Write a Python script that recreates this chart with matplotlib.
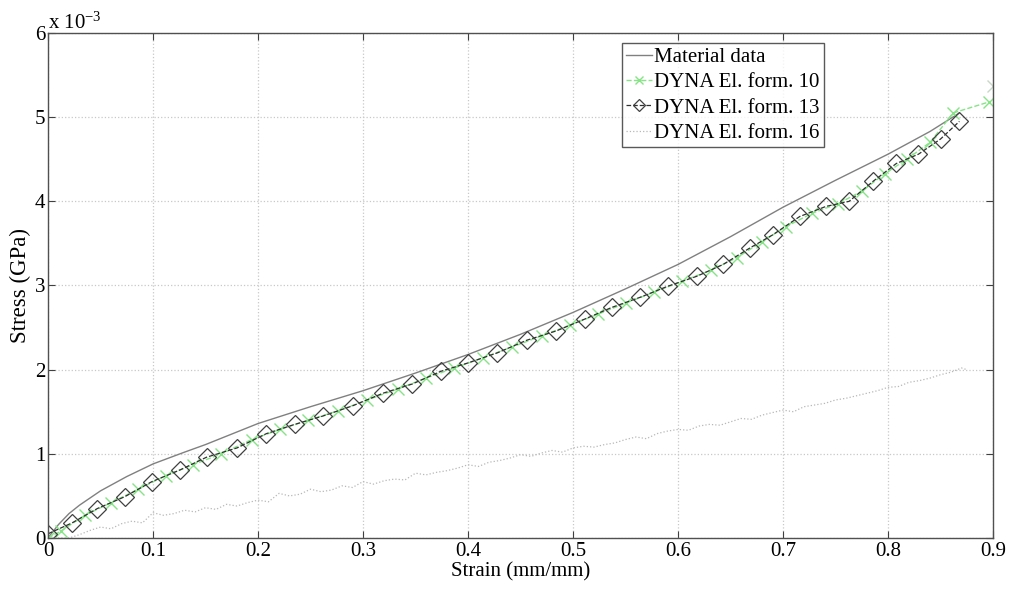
import matplotlib
matplotlib.use("Agg")
import matplotlib.pyplot as plt

plt.rcParams['font.family'] = ['Liberation Serif', 'DejaVu Serif']
plt.rcParams['mathtext.fontset'] = 'custom'
plt.rcParams['mathtext.rm'] = 'Liberation Serif'
plt.rcParams['mathtext.it'] = 'Liberation Serif:italic'

# Stress values are in units of 1e-3 GPa
material_strain = [0.0, 0.01, 0.02, 0.03, 0.05, 0.075, 0.1, 0.13, 0.15, 0.2, 0.25,
                   0.3, 0.35, 0.4, 0.45, 0.5, 0.55, 0.6, 0.65, 0.7, 0.75, 0.8,
                   0.84, 0.868]
material_stress = [0.0, 0.16, 0.29, 0.39, 0.56, 0.73, 0.88, 1.02, 1.11, 1.36, 1.56,
                   1.75, 1.96, 2.18, 2.42, 2.68, 2.96, 3.25, 3.58, 3.93, 4.25, 4.56,
                   4.83, 5.05]

ef10_strain = [0.0, 0.012, 0.035, 0.06, 0.086, 0.112, 0.138, 0.165, 0.194, 0.221,
               0.248, 0.276, 0.304, 0.333, 0.36, 0.387, 0.414, 0.442, 0.47, 0.497,
               0.524, 0.55, 0.577, 0.604, 0.631, 0.656, 0.68, 0.703, 0.728, 0.752,
               0.775, 0.797, 0.818, 0.84, 0.862, 0.896]
ef10_stress = [0.0, 0.08, 0.27, 0.42, 0.58, 0.74, 0.87, 1.0, 1.17, 1.29,
               1.4, 1.51, 1.64, 1.77, 1.9, 2.02, 2.14, 2.27, 2.4, 2.53,
               2.66, 2.79, 2.92, 3.05, 3.18, 3.33, 3.52, 3.7, 3.86, 3.97,
               4.12, 4.33, 4.5, 4.7, 5.05, 5.18]
ef10_extra_strain = [0.9]
ef10_extra_stress = [5.37]

ef13_strain = [0.0, 0.023, 0.047, 0.073, 0.099, 0.126, 0.151, 0.18, 0.208, 0.235,
               0.262, 0.29, 0.319, 0.347, 0.374, 0.4, 0.428, 0.456, 0.484, 0.511,
               0.537, 0.564, 0.59, 0.618, 0.643, 0.669, 0.69, 0.716, 0.741, 0.763,
               0.786, 0.808, 0.829, 0.85, 0.868]
ef13_stress = [0.05, 0.18, 0.35, 0.49, 0.67, 0.81, 0.96, 1.07, 1.24, 1.35,
               1.45, 1.57, 1.72, 1.83, 1.98, 2.08, 2.2, 2.35, 2.46, 2.6,
               2.74, 2.86, 2.99, 3.11, 3.25, 3.45, 3.6, 3.82, 3.94, 4.0,
               4.24, 4.45, 4.56, 4.74, 4.95]

ef16_strain = [0.0, 0.02, 0.03, 0.04, 0.05, 0.06, 0.07, 0.08, 0.09, 0.1,
               0.11, 0.12, 0.13, 0.14, 0.15, 0.16, 0.17, 0.18, 0.19, 0.2,
               0.21, 0.22, 0.23, 0.24, 0.25, 0.26, 0.27, 0.28, 0.29, 0.3,
               0.31, 0.32, 0.33, 0.34, 0.35, 0.36, 0.37, 0.38, 0.39, 0.4,
               0.41, 0.42, 0.43, 0.44, 0.45, 0.46, 0.47, 0.48, 0.49, 0.5,
               0.51, 0.52, 0.53, 0.54, 0.55, 0.56, 0.57, 0.58, 0.59, 0.6,
               0.61, 0.62, 0.63, 0.64, 0.65, 0.66, 0.67, 0.68, 0.69, 0.7,
               0.71, 0.72, 0.73, 0.74, 0.75, 0.76, 0.77, 0.78, 0.79, 0.8,
               0.81, 0.82, 0.83, 0.84, 0.85, 0.86, 0.87, 0.875]
ef16_stress = [0.0, 0.0, 0.04, 0.09, 0.13, 0.11, 0.17, 0.2, 0.18, 0.3,
               0.27, 0.29, 0.33, 0.31, 0.36, 0.34, 0.4, 0.38, 0.42, 0.45,
               0.43, 0.53, 0.5, 0.52, 0.58, 0.55, 0.57, 0.62, 0.6, 0.67,
               0.64, 0.68, 0.7, 0.69, 0.77, 0.75, 0.78, 0.8, 0.83, 0.87,
               0.85, 0.9, 0.92, 0.95, 0.99, 0.97, 1.01, 1.04, 1.02, 1.07,
               1.09, 1.08, 1.11, 1.13, 1.17, 1.2, 1.18, 1.24, 1.27, 1.29,
               1.28, 1.33, 1.35, 1.34, 1.38, 1.42, 1.41, 1.46, 1.49, 1.52,
               1.5, 1.56, 1.58, 1.6, 1.64, 1.66, 1.69, 1.72, 1.75, 1.79,
               1.8, 1.85, 1.87, 1.9, 1.94, 1.97, 2.02, 2.0]

x_ticks = [0, 0.1, 0.2, 0.3, 0.4, 0.5, 0.6, 0.7, 0.8, 0.9]
x_tick_labels = ['0', '0.1', '0.2', '0.3', '0.4', '0.5', '0.6', '0.7', '0.8', '0.9']
y_ticks = [0, 1, 2, 3, 4, 5, 6]
y_tick_labels = ['0', '1', '2', '3', '4', '5', '6']

fig = plt.figure(figsize=(10.13, 5.90), dpi=100)
ax = fig.add_axes([48 / 1013, 52 / 590, 945 / 1013, 505 / 590])

ax.plot(material_strain, material_stress, color='#808080', lw=1.0,
        label='Material data')
ax.plot(ef10_strain, ef10_stress, color='#86e486', lw=1.0, ls='--',
        marker='x', markersize=8, markeredgewidth=1.0,
        label='DYNA El. form. 10')
ax.plot(ef10_extra_strain, ef10_extra_stress, ls='none', marker='x',
        markersize=8, markeredgewidth=1.0, color='#c8d8c8')
ax.plot(ef13_strain, ef13_stress, color='#303030', lw=0.9, ls='--',
        marker='D', markersize=9, markerfacecolor='none',
        markeredgecolor='#404040', markeredgewidth=0.9,
        label='DYNA El. form. 13')
ax.plot(ef16_strain, ef16_stress, color='#b8b8b8', lw=0.9, ls=':',
        label='DYNA El. form. 16')

ax.set_xlim(0, 0.9)
ax.set_ylim(0, 6)
ax.set_xticks(x_ticks)
ax.set_xticklabels(x_tick_labels)
ax.set_yticks(y_ticks)
ax.set_yticklabels(y_tick_labels)
ax.tick_params(direction='in', length=5, width=0.8, top=True, right=True,
               labelsize=15, color='#404040')
ax.tick_params(axis='x', pad=3)
ax.tick_params(axis='y', pad=2)
ax.grid(True, color='#c8c8c8', ls=':', lw=0.9)
for sp in ax.spines.values():
    sp.set_color('#505050')
    sp.set_linewidth(1.0)

ax.set_xlabel('Strain (mm/mm)', fontsize=15, labelpad=1)
ax.set_ylabel('Stress (GPa)', fontsize=16.5, labelpad=3)

ax.text(0.0, 1.0 + 4 / 505, r'x 10$^{-3}$', transform=ax.transAxes,
        fontsize=15, ha='left', va='baseline')

leg = ax.legend(loc='upper left', bbox_to_anchor=(0.607, 0.98),
                fontsize=15, frameon=True, fancybox=False, shadow=False,
                borderpad=0.2, labelspacing=0.28, handlelength=1.25,
                handletextpad=0.1, borderaxespad=0)
leg.get_frame().set_edgecolor('#303030')
leg.get_frame().set_linewidth(1.0)
for h in leg.legend_handles:
    h.set_markersize(6)

fig.savefig('out.png', dpi=100)
